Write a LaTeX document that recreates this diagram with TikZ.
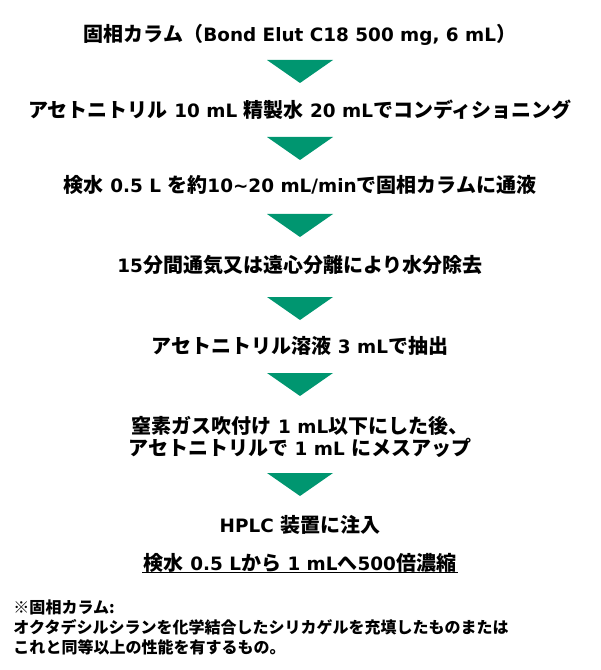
\documentclass[tikz,border=0pt]{standalone}
\usepackage{fontspec}
\setmainfont{Noto Sans CJK JP}
\newfontfamily\latfont{DejaVu Sans}
\newcommand{\lat}[1]{{\latfont\fontsize{13.8}{16}\selectfont #1}}
\tikzset{every picture/.style={line width=0.75pt}}
\definecolor{arrowgreen}{RGB}{0,150,112}
\tikzset{
  steptext/.style={inner sep=0.75pt,align=center,font=\fontsize{15}{16}\selectfont\bfseries},
  notetext/.style={anchor=west,inner sep=0.75pt,align=left,font=\fontsize{12}{15}\selectfont\bfseries},
  downtri/.style={fill=arrowgreen,draw=none}
}

\begin{document}
\begin{tikzpicture}[x=0.75pt,y=0.75pt,yscale=-1,xscale=1]
    \useasboundingbox (0,0) rectangle (600,670);

    % Text Node
    \draw (300,35) node [steptext] (column) {固相カラム（\lat{Bond Elut C18 500 mg, 6 mL}）};
    %Shape: Triangle
    \fill [downtri] (267,60) -- (333,60) -- (300,83) -- cycle ;
    % Text Node
    \draw (300,110) node [steptext] (cond) {アセトニトリル\lat{ 10 mL }精製水\lat{ 20 mL}でコンディショニング};
    %Shape: Triangle
    \fill [downtri] (267,137) -- (333,137) -- (300,160) -- cycle ;
    % Text Node
    \draw (300,185) node [steptext] (load) {検水\lat{ 0.5 L }を約\lat{10\textasciitilde 20 mL/min}で固相カラムに通液};
    %Shape: Triangle
    \fill [downtri] (267,214) -- (333,214) -- (300,237) -- cycle ;
    % Text Node
    \draw (300,265) node [steptext] (dry) {\lat{15}分間通気又は遠心分離により水分除去};
    %Shape: Triangle
    \fill [downtri] (267,297) -- (333,297) -- (300,320) -- cycle ;
    % Text Node
    \draw (300,346) node [steptext] (elute) {アセトニトリル溶液\lat{ 3 mL}で抽出};
    %Shape: Triangle
    \fill [downtri] (267,373) -- (333,373) -- (300,396) -- cycle ;
    % Text Node
    \draw (300,437) node [steptext] (conc) {窒素ガス吹付け\lat{ 1 mL}以下にした後、\\アセトニトリルで\lat{ 1 mL }にメスアップ};
    %Shape: Triangle
    \fill [downtri] (267,473) -- (333,473) -- (300,496) -- cycle ;
    % Text Node
    \draw (300,525) node [steptext] (hplc) {\lat{HPLC }装置に注入};
    % Text Node
    \draw (300,563) node [steptext] (ratio) {検水\lat{ 0.5 L}から\lat{ 1 mL}へ\lat{500}倍濃縮};
    %Straight Lines
    \draw [line width=1pt] ([yshift=-1pt]ratio.south west) -- ([yshift=-1pt]ratio.south east) ;

    % Text Node
    \draw (12,627) node [notetext] (note) {※固相カラム:\\オクタデシルシランを化学結合したシリカゲルを充填したものまたは\\これと同等以上の性能を有するもの。};

\end{tikzpicture}
\end{document}
